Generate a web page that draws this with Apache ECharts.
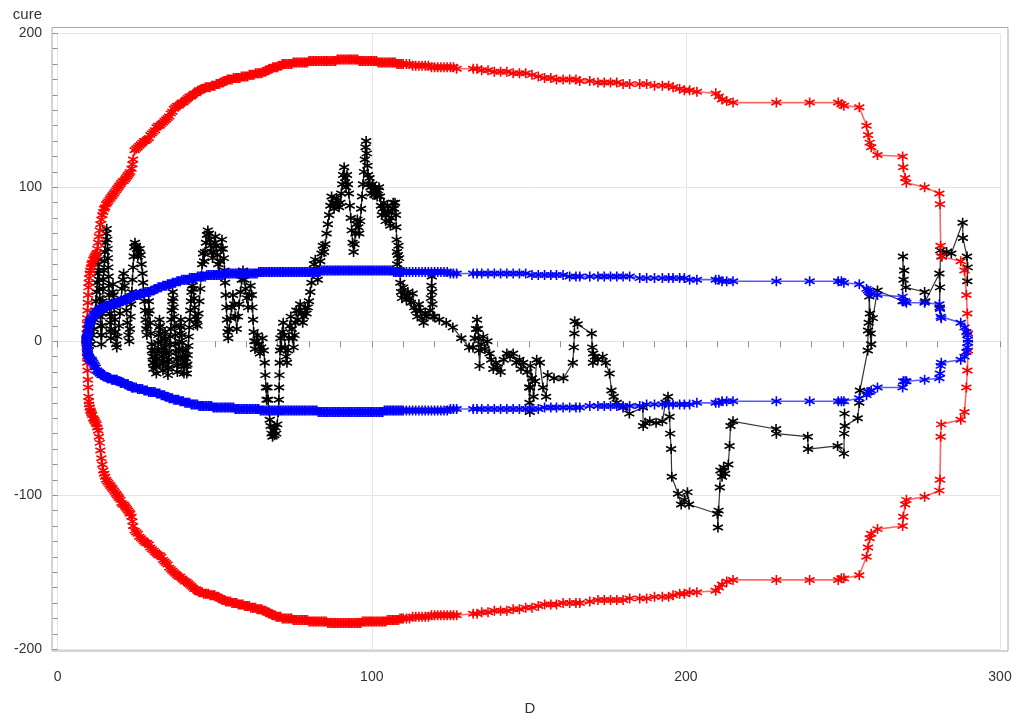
<!DOCTYPE html>
<html>
<head>
<meta charset="utf-8">
<script src="https://cdn.jsdelivr.net/npm/echarts@6/dist/echarts.min.js"></script>
<style>html,body{margin:0;padding:0;background:#fff}#chart{width:1016px;height:721px}</style>
</head>
<body>
<div id="chart"></div>
<script>
// ---- data ----
const xTickLabels = [0, 100, 200, 300];
const yTickLabels = [-200, -100, 0, 100, 200];

// D positions shared by the envelope curves
const envD = [
9.2,9.25,9.3,9.35,9.4,9.5,9.6,9.7,9.8,9.9,10.0,10.2,10.4,10.6,10.8,11.0,11.3,11.6,11.8,12.1,12.4,12.6,12.9,13.1,13.4,13.6,13.9,14.2,14.5,14.8,15.1,15.4,15.8,16.1,16.5,16.8,17.2,17.5,17.9,18.2,18.6,18.9,19.3,19.6,20.0,20.3,20.7,21.0,21.4,21.7,22.1,22.4,22.8,23.1,23.5,23.8,
24,24.5,25,25.5,26,26.5,27,27.5,28,28.5,
29,29.5,30,30.5,31,31.5,32,32.5,33,33.5,
34,34.5,35,35.5,36,36.5,37,37.5,38,38.5,
39,39.5,40,40.5,41,41.5,42,42.5,43,43.5,
44,44.5,45,45.5,46,46.5,47,47.5,48,48.5,
49,49.5,50,50.5,51,51.5,52,52.5,53,53.5,
54,54.5,55,55.5,56,56.5,57,57.5,58,58.5,
59,59.5,60,60.5,61,61.5,62,62.5,63,63.5,
64,64.5,65,65.5,66,66.5,67,67.5,68,68.5,
69,69.5,70,70.5,71,71.5,72,72.5,73,73.5,
74,74.5,75,75.5,76,76.5,77,77.5,78,78.5,
79,79.5,80,80.5,81,81.5,82,82.5,83,83.5,
84,84.5,85,85.5,86,86.5,87,87.5,88,88.5,
89,89.5,90,90.5,91,91.5,92,92.5,93,93.5,
94,94.5,95,95.5,96,96.5,97,97.5,98,98.5,
99,99.5,100,100.5,101,101.5,102,102.5,103,103.5,
104,104.5,105,105.5,106,106.5,107,107.5,108,108.5,
109,109.5,110,
111,112,113,114,115,116,117,118,119,120,121,122,123,124,125,126,127,
132.3,133.5,135,137,139,141,143,145,147,149,
151,153,155,157,158.8,160.9,163,165,166.2,169.4,
172,174,176,178,180,182.1,185.3,187.5,190,192.5,
194.5,195.9,198,199.5,201.2,203.5,209.5,210.5,211.5,213,
215,228.8,239.4,248.5,249.5,250.3,255.2,257.5,258,258.5,
259,261,269,269.2,269.8,270.2,276,280.7,280.9,281.1,
281.3,287.5,288.7,289.3,289.6,289.8];

const redUpper = [
2,5,8,11,15,20,25,30,35,38,41,44,46,48,50,51,53,54,55,56,57,60,64,68,72,76,79,82,84,86,87,89,90,91,92,93,94,95,96,97,98,99,100,101,102,103,104,104,105,106,107,108,109,110,112,115,
118,124,125,126,127,128,129,130,130,131,
132,134,135,136,137,139,140,140,141,142,
143,144,145,146,148,149,151,152,153,153,
154,155,155,156,157,158,159,159,160,161,
161,162,163,163,164,164,165,165,165,165,
166,166,166,167,167,167,168,168,169,169,
170,170,170,170,171,171,171,171,171,172,
172,172,172,172,173,173,173,173,174,174,
174,174,174,175,175,176,176,177,177,178,
178,178,178,179,179,180,180,180,180,180,
180,180,181,181,181,181,181,181,181,181,
181,181,182,182,182,182,182,182,182,182,
182,182,182,182,182,182,182,182,182,182,
183,183,183,183,183,183,183,183,183,183,
183,183,183,183,182,182,182,182,182,182,
182,182,182,182,182,182,181,181,181,181,
181,181,181,181,181,181,181,181,180,180,
180,180,180,
180,180,179,179,179,179,179,179,178,178,178,178,178,178,178,178,177,
177,177,176,176,175,175,175,174,174,174,
173,172,171,171,170,170,170,170,169,169,
168,168,168,168,167,167,167,167,166,166,
166,165,164,163,163,162,161,159,157,156,
155,155,155,155,154,153,152,140,134,129,
126,121,120,113,106,103,100,96,89,62,
55,52,46,30,18,5];

const redLower = [
-1,-4,-7,-10,-14,-19,-25,-30,-36,-39,-41,-43,-45,-46,-47,-48,-50,-51,-52,-53,-54,-56,-58,-62,-66,-71,-76,-80,-84,-86,-88,-90,-91,-92,-93,-94,-95,-96,-97,-98,-99,-100,-101,-102,-103,-105,-106,-106,-107,-108,-109,-110,-111,-112,-114,-117,
-120,-123,-124,-125,-127,-128,-129,-130,-131,-131,
-132,-134,-135,-136,-137,-138,-139,-139,-140,-142,
-143,-144,-145,-147,-148,-149,-150,-151,-152,-153,
-153,-154,-155,-156,-156,-157,-158,-159,-160,-161,
-161,-162,-163,-163,-163,-164,-164,-164,-164,-165,
-165,-165,-165,-166,-166,-167,-167,-168,-168,-169,
-169,-169,-169,-170,-170,-170,-170,-171,-171,-171,
-171,-172,-172,-172,-172,-173,-173,-173,-173,-174,
-174,-174,-174,-175,-175,-176,-176,-177,-177,-178,
-178,-179,-179,-179,-179,-180,-180,-180,-180,-180,
-180,-180,-181,-181,-181,-181,-181,-181,-181,-181,
-181,-181,-182,-182,-182,-182,-182,-182,-182,-182,
-182,-182,-182,-182,-183,-183,-183,-183,-183,-183,
-183,-183,-183,-183,-183,-183,-183,-183,-183,-183,
-183,-183,-183,-183,-183,-183,-182,-182,-182,-182,
-182,-182,-182,-182,-182,-182,-182,-182,-182,-182,
-182,-182,-181,-181,-181,-181,-181,-181,-181,-181,
-180,-180,-180,
-180,-180,-179,-179,-179,-179,-179,-179,-178,-178,-178,-178,-178,-178,-178,-178,-178,
-177,-177,-176,-176,-175,-175,-175,-174,-174,-173,
-173,-172,-171,-171,-171,-170,-170,-170,-170,-169,
-168,-168,-168,-168,-168,-167,-167,-167,-166,-166,
-166,-165,-164,-164,-163,-163,-162,-160,-158,-156,
-155,-155,-155,-155,-154,-154,-152,-140,-134,-128,
-125,-122,-120,-114,-106,-103,-101,-97,-90,-62,
-54,-51,-46,-30,-19,-6];

const blueUpper = [
1,1,2,2,3,4,5,6,8,9,11,12,13,14,15,15,16,17,18,18,19,19,20,20,21,21,21,22,22,22,22,23,23,23,23,24,24,24,24,25,25,25,25,25,26,26,26,27,27,27,27,28,28,28,29,29,
29,30,30,30,30,31,31,31,32,32,
32,32,33,33,34,34,35,35,35,36,
36,36,37,37,37,38,38,38,39,39,
39,40,40,40,40,40,41,41,41,41,
41,42,42,42,42,42,42,43,43,43,
43,43,43,43,43,43,43,43,43,44,
44,44,44,44,44,44,44,44,44,44,
44,44,44,44,44,44,44,44,44,44,
45,45,45,45,45,45,45,45,45,45,
45,45,45,45,45,45,45,45,45,45,
45,45,45,45,45,45,45,45,45,45,
45,45,45,45,45,45,45,45,45,45,
46,46,46,46,46,46,46,46,46,46,
46,46,46,46,46,46,46,46,46,46,
46,46,46,46,46,46,46,46,46,46,
46,46,46,46,46,46,46,46,46,46,
46,46,46,46,46,46,45,45,45,45,
45,45,45,
45,45,45,45,45,45,45,45,45,45,45,45,45,45,44,44,44,
44,44,44,44,44,44,44,44,44,44,
43,43,43,43,43,43,42,42,42,42,
42,42,42,42,42,42,41,41,41,41,
41,41,41,41,40,40,40,40,39,39,
39,39,39,39,39,38,37,34,33,32,
31,30,29,26,26,25,25,24,21,16,
15,12,9,6,4,1];

const blueLower = [
1,0,-2,-3,-5,-6,-8,-9,-10,-10,-11,-11,-12,-12,-12,-13,-14,-15,-16,-17,-19,-19,-20,-20,-21,-21,-22,-22,-22,-22,-23,-23,-24,-24,-24,-24,-25,-25,-25,-25,-25,-25,-26,-26,-27,-27,-27,-27,-28,-28,-28,-28,-29,-29,-30,-30,
-30,-30,-30,-31,-31,-31,-31,-32,-32,-32,
-33,-33,-33,-33,-33,-34,-34,-34,-35,-35,
-35,-36,-36,-37,-37,-37,-38,-38,-38,-38,
-39,-39,-39,-40,-40,-40,-40,-41,-41,-41,
-41,-41,-42,-42,-42,-42,-42,-42,-42,-42,
-42,-43,-43,-43,-43,-43,-43,-43,-43,-43,
-43,-43,-43,-43,-43,-44,-44,-44,-44,-44,
-44,-44,-44,-44,-44,-44,-44,-44,-44,-44,
-44,-45,-45,-45,-45,-45,-45,-45,-45,-45,
-45,-45,-45,-45,-45,-45,-45,-45,-45,-45,
-45,-45,-45,-45,-45,-45,-45,-45,-45,-45,
-45,-45,-45,-45,-45,-45,-45,-45,-46,-46,
-46,-46,-46,-46,-46,-46,-46,-46,-46,-46,
-46,-46,-46,-46,-46,-46,-46,-46,-46,-46,
-46,-46,-46,-46,-46,-46,-46,-46,-46,-46,
-46,-46,-46,-46,-46,-46,-46,-46,-46,-46,
-45,-45,-45,-45,-45,-45,-45,-45,-45,-45,
-45,-45,-45,
-45,-45,-45,-45,-45,-45,-45,-45,-45,-45,-45,-45,-45,-45,-44,-44,-44,
-44,-44,-44,-44,-44,-44,-44,-44,-44,-44,
-44,-44,-43,-43,-43,-43,-43,-43,-43,-42,
-42,-42,-42,-42,-42,-42,-42,-41,-41,-41,
-41,-41,-41,-41,-41,-40,-40,-40,-39,-39,
-39,-39,-39,-39,-39,-39,-37,-35,-33,-33,
-32,-30,-30,-26,-26,-26,-25,-24,-21,-16,
-14,-12,-10,-7,-4,-1];

// black trace: [D, cure]
const cureTrace = [
[9.2,0],[9.3,-4],[9.4,-8],[9.6,-4],[9.8,0],[10.0,-3],[10.3,2],[10.6,-2],[11.0,4],
[11.5,8],[11.8,14],[12.0,20],[12.2,26],[12.4,32],[12.6,38],[12.8,44],[12.9,50],[13.0,53],[13.1,46],[13.2,40],[13.3,34],[13.4,28],[13.5,22],[13.6,16],[13.7,10],[13.8,4],[13.9,-2],[14.0,4],[14.1,10],[14.2,18],[14.3,26],[14.4,34],[14.5,40],
[14.7,46],[14.9,52],[15.0,58],[15.2,64],[15.4,70],[15.6,73],[15.8,66],[15.9,60],[16.0,54],[16.1,48],[16.2,42],[16.3,36],[16.4,30],[16.5,24],[16.6,18],[16.7,12],[16.8,6],[16.9,2],[17.0,8],[17.1,16],[17.2,24],[17.4,32],[17.6,37],[17.8,30],[18.0,22],[18.2,14],[18.4,6],[18.6,-2],[18.8,-4],[19.0,3],
[19.5,10],[19.8,18],[20.1,26],[20.4,34],[20.7,40],[21.0,44],[21.3,36],[21.6,28],[21.9,20],[22.2,12],[22.5,4],[22.8,0],
[23.0,8],[23.2,16],[23.4,24],[23.6,32],[23.8,40],[24.0,48],[24.2,55],[24.4,61],[24.6,64],[24.9,62],[25.2,60],[25.5,55],[25.8,58],[26.1,60],[26.4,56],[26.7,50],[27.0,44],[27.2,38],[27.4,32],[27.6,26],[27.8,20],[28.0,14],[28.2,8],[28.4,4],[28.6,10],[28.8,18],[29.0,26],[29.2,20],[29.4,12],[29.6,5],
[29.9,-2],[30.0,-6],[30.2,-10],[30.3,-14],[30.5,-18],[30.6,-14],[30.8,-10],[30.9,-6],[31.1,-10],[31.2,-15],[31.4,-21],[31.5,-16],[31.7,-11],[31.8,-6],[32.0,-1],[32.1,4],[32.3,9],[32.4,14],[32.6,10],[32.7,5],[32.9,0],[33.0,-5],[33.2,-10],[33.3,-15],[33.5,-19],[33.6,-14],[33.8,-9],[33.9,-4],[34.1,1],[34.2,6],[34.4,2],[34.5,-3],[34.7,-8],[34.8,-13],[35.0,-18],[35.1,-22],[35.3,-17],[35.4,-12],[35.6,-7],[35.7,-2],[35.9,3],[36.0,8],[36.2,14],[36.3,20],[36.5,26],[36.6,32],[36.8,28],[36.9,22],[37.1,16],[37.2,10],[37.4,4],[37.5,-2],[37.7,-7],[37.8,-12],[38.0,-16],[38.1,-20],[38.3,-15],[38.4,-10],[38.6,-5],[38.7,0],[38.9,5],[39.0,10],[39.2,14],[39.3,9],[39.5,4],[39.6,-1],[39.8,-6],[39.9,-11],[40.1,-16],[40.2,-21],[40.4,-16],[40.5,-11],[40.7,-6],[40.8,-11],[41.0,-16],[41.1,-21],[41.3,-15],[41.4,-9],[41.6,-3],[41.7,3],[41.9,9],[42.0,14],[42.2,20],[42.4,26],[42.6,32],[42.8,36],[43.0,39],[43.2,34],[43.4,28],[43.6,22],[43.8,16],[44.0,11],[44.3,14],[44.5,10],
[44.8,18],[45.1,26],[45.4,34],[45.7,42],[46.0,50],[46.3,57],[46.6,52],[46.9,58],[47.2,64],[47.5,69],[47.8,72],[48.1,70],[48.4,66],[48.7,62],[49.0,58],[49.3,54],[49.6,58],[49.9,64],[50.2,68],[50.5,62],[50.8,56],[51.1,50],[51.4,44],[51.7,52],[52.0,60],[52.3,66],[52.6,60],[52.9,54],[53.1,46],[53.3,38],[53.5,30],[53.7,22],[53.9,14],[54.1,6],[54.3,2],
[54.6,8],[55.0,15],[55.4,22],[55.8,30],[56.2,24],[56.6,16],[57.0,8],[57.4,16],[57.8,24],[58.2,32],[58.6,40],[59.0,46],[59.4,40],[59.8,34],[60.2,28],[60.6,22],[61.0,30],[61.4,36],[61.8,30],[62.0,22],[62.2,14],[62.4,6],[62.6,0],[62.8,-5],
[63.2,0],[63.6,4],[64.0,-2],[64.4,-8],[64.8,-4],[65.2,2],[65.6,-6],[65.9,-14],[66.1,-22],[66.3,-30],[66.5,-38],[66.8,-30],[67.0,-38],[67.2,-45],[67.5,-51],[67.8,-55],[68.1,-60],[68.4,-62],[68.7,-58],[69.0,-61],[69.3,-56],[69.6,-60],[69.9,-54],[70.2,-46],[70.4,-38],[70.5,-30],[70.6,-22],[70.7,-14],[70.8,-6],[70.9,2],
[71.2,-4],[71.5,6],[71.8,12],[72.1,4],[72.4,-4],[72.7,-10],[73.0,-14],[73.3,-6],[73.6,2],[73.9,10],[74.2,16],[74.5,8],[74.8,2],[75.1,-4],[75.4,4],[75.7,12],[76.0,20],[76.4,14],[76.8,20],[77.2,24],[77.6,18],[78.0,12],[78.4,16],[78.8,22],[79.2,18],[79.6,22],
[80.0,26],[80.4,32],[80.8,38],[81.2,44],[81.6,50],[82.0,53],[82.4,46],[82.8,40],[83.2,46],[83.6,52],[84.0,57],[84.4,62],[84.8,58],[85.2,63],[85.6,70],[86.0,76],[86.4,82],[86.8,88],[87.2,94],[87.6,90],[88.0,86],[88.4,90],[88.8,93],[89.2,89],[89.6,87],[90.0,90],[90.3,96],[90.6,102],[90.9,108],[91.2,113],[91.5,106],[91.8,100],[92.1,108],[92.4,102],[92.7,96],[93.0,88],[93.3,80],[93.6,72],[93.9,64],[94.2,58],[94.5,63],[94.8,70],[95.1,76],[95.4,79],[95.7,74],[96.0,70],[96.3,78],[96.6,86],[96.9,94],[97.2,102],[97.5,110],[97.8,118],[98.0,126],[98.2,130],[98.4,122],[98.6,114],[98.8,108],[99.0,102],[99.3,106],[99.6,100],[99.9,96],[100.2,102],[100.5,98],[100.8,95],[101.1,100],[101.4,97],[101.7,94],[102.0,98],[102.3,100],[102.6,94],[102.9,88],[103.2,82],[103.5,86],[103.8,90],[104.1,84],[104.4,78],[104.7,82],[105.0,88],[105.3,84],[105.6,78],[105.9,75],[106.2,80],[106.5,86],[106.8,90],[107.1,86],[107.4,90],[107.7,82],[107.8,74],[107.9,66],[108.0,58],[108.1,50],[108.3,56],[108.5,62],[108.7,54],[108.9,46],[109.1,38],[109.3,32],[109.6,28],
[110.0,35],[110.5,30],[111.0,27],[111.5,32],[112.0,28],[112.5,25],[113.0,31],[113.5,22],[114.0,20],[114.5,16],[115.0,24],[115.5,20],[116.0,15],[116.5,12],[117.0,18],[117.5,16],[118.5,20],[118.8,28],[119.0,36],[119.1,42],[119.2,32],[119.3,24],[119.5,16],[120.0,16],[121.5,14],[123.7,12],[125.8,9],[128.5,2],[131.0,-4],[132.2,-4],[132.8,2],[133.2,8],[133.5,14],[133.8,8],[134.0,2],[134.1,-6],[134.3,-16],[134.8,-2],[135.5,3],[136.0,-5],[136.8,0],[137.5,-8],[138.0,-12],[138.7,-18],[139.5,-14],[140.0,-17],[141.0,-20],[142.0,-12],[143.0,-8],[144.0,-10],[145.0,-8],[146.0,-14],[147.0,-12],[147.5,-18],[148.2,-14],[149.5,-20],[150.1,-30],[150.2,-40],[150.3,-46],[150.4,-30],[150.5,-16],[151.0,-24],[151.5,-36],[152.0,-26],[152.5,-12],[153.5,-14],[154.5,-30],[155.5,-36],[156.0,-22],[158.0,-24],[161.0,-24],[164.0,-14],[164.3,-4],[164.5,5],[164.6,13],[165.5,11],[170.0,5],[170.2,-4],[170.4,-14],[170.5,-8],[171.0,-10],[172.0,-12],[173.5,-10],[174.5,-14],[175.7,-21],[176.3,-32],[177.0,-36],[178.0,-40],[180.0,-43],[182.0,-47],[186.3,-43],[186.4,-55],[187.0,-53],[188.5,-52],[190.5,-53],[192.5,-52],[193.5,-40],[194.3,-36],[194.8,-49],[195.0,-60],[195.3,-70],[195.5,-88],[197.5,-99],[198.5,-106],[199.5,-103],[200.5,-98],[201.0,-106],[210.0,-112],[210.2,-121],[210.4,-110],[210.8,-95],[211.0,-84],[211.5,-88],[212.0,-82],[212.5,-86],[213.5,-80],[213.9,-68],[214.2,-55],[215.0,-52],[228.7,-57],[228.8,-60],[238.8,-62],[238.9,-70],[248.3,-68],[250.3,-73],[250.4,-60],[250.5,-47],[250.6,-55],[254.7,-50],[255.2,-40],[255.4,-32],[257.9,-6],[258.0,7],[258.2,12],[258.4,29],[258.6,18],[258.8,5],[259.0,-2],[259.5,15],[261.0,33],[269.0,26],[269.1,55],[269.3,40],[269.5,46],[270.0,35],[276.0,32],[276.2,26],[280.7,44],[280.8,22],[280.9,35],[281.0,59],[281.5,55],[283.0,58],[284.5,57],[288.1,77],[288.2,67],[289.5,55],[289.6,39],[289.7,48]];

// ---- chart ----
const FONT = '"Liberation Sans", Arial, sans-serif';
const STAR = 'path://M5,0L5,10M0.7,2.5L9.3,7.5M0.7,7.5L9.3,2.5';
const pair = (xs, ys) => xs.map((d, i) => [d, ys[i]]);

function starSeries(name, data, markColor, lineColor, lineWidth, z) {
  return {
    type: 'line', name, data, xAxisIndex: 0, yAxisIndex: 0, z,
    symbol: STAR, symbolSize: [10, 10], showAllSymbol: true, clip: false,
    itemStyle: { color: markColor, borderColor: markColor, borderWidth: 1.6 },
    lineStyle: { color: lineColor, width: lineWidth },
    emphasis: { disabled: true }, silent: true
  };
}

const chart = echarts.init(document.getElementById('chart'));
const axisTxt = { fontFamily: FONT, fontSize: 14, color: '#333' };
const tickCol = '#8f8f8f';
chart.setOption({
  animation: false,
  backgroundColor: '#ffffff',
  grid: [
    { left: 57.7, right: 16, top: 33.3, bottom: 71.8, show: false },
    { left: 52, right: 8, top: 27.5, bottom: 68, show: true, borderColor: '#a8a8a8', borderWidth: 1, backgroundColor: 'transparent' }
  ],
  xAxis: [
    { gridIndex: 0, type: 'value', min: xTickLabels[0], max: xTickLabels[xTickLabels.length - 1], interval: 100, offset: 3.8,
      axisLine: { show: false },
      axisTick: { show: true, inside: false, length: 6, lineStyle: { color: tickCol } },
      minorTick: { show: true, splitNumber: 10, length: 6, lineStyle: { color: tickCol } },
      splitLine: { show: true, lineStyle: { color: '#e4e4e4', width: 1 } },
      axisLabel: Object.assign({ margin: 17 }, axisTxt) },
    { gridIndex: 1, type: 'value', min: 0, max: 1, axisLine: { show: false }, axisTick: { show: false }, axisLabel: { show: false }, splitLine: { show: false },
      name: 'D', nameLocation: 'middle', nameGap: 50, nameTextStyle: { fontFamily: FONT, fontSize: 15, color: '#333' } }
  ],
  yAxis: [
    { gridIndex: 0, type: 'value', min: yTickLabels[0], max: yTickLabels[yTickLabels.length - 1], interval: 100, offset: 5.7,
      axisLine: { show: false },
      axisTick: { show: true, inside: false, length: 5, lineStyle: { color: tickCol } },
      minorTick: { show: true, splitNumber: 10, length: 5, lineStyle: { color: tickCol } },
      splitLine: { show: true, lineStyle: { color: '#e4e4e4', width: 1 } },
      axisLabel: Object.assign({ margin: 10 }, axisTxt) },
    { gridIndex: 1, type: 'value', min: 0, max: 1, axisLine: { show: false }, axisTick: { show: false }, axisLabel: { show: false }, splitLine: { show: false },
      name: 'cure', nameLocation: 'end', nameGap: 5,
      nameTextStyle: { fontFamily: FONT, fontSize: 15, color: '#333', align: 'right', verticalAlign: 'bottom', padding: [0, 10, 0, 0] } }
  ],
  series: [
    starSeries('cure', cureTrace, '#000000', 'rgba(30,30,30,0.9)', 1.2, 2),
    starSeries('upper95', pair(envD, redUpper), '#ff0000', 'rgba(255,0,0,0.6)', 1.6, 3),
    starSeries('lower95', pair(envD, redLower), '#ff0000', 'rgba(255,0,0,0.6)', 1.6, 3),
    starSeries('upper', pair(envD, blueUpper), '#0000ff', 'rgba(0,0,255,0.65)', 1.6, 4),
    starSeries('lower', pair(envD, blueLower), '#0000ff', 'rgba(0,0,255,0.65)', 1.6, 4)
  ]
});
</script>
</body>
</html>
